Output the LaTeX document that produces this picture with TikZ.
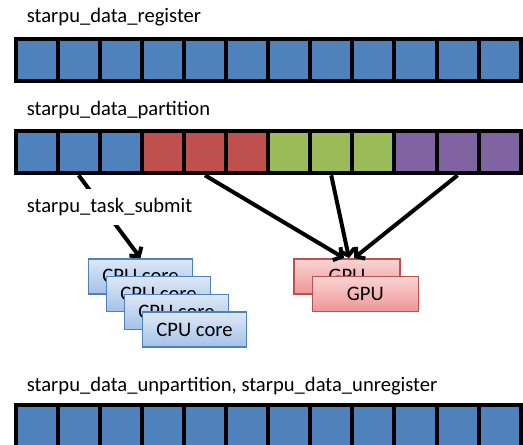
\documentclass[tikz,border=0pt]{standalone}
\usepackage{fontspec}
\setmainfont{Carlito}
\usepackage{tikz}
\usetikzlibrary{arrows.meta, positioning, calc}
\definecolor{part-blue}{RGB}{79,129,189}
\definecolor{part-red}{RGB}{192,80,77}
\definecolor{part-green}{RGB}{155,187,89}
\definecolor{part-purple}{RGB}{128,100,162}
\definecolor{cpu-top}{RGB}{222,232,246}
\definecolor{cpu-bot}{RGB}{163,194,232}
\definecolor{gpu-top}{RGB}{250,212,212}
\definecolor{gpu-bot}{RGB}{238,150,150}

\begin{document}
\begin{tikzpicture}[
    x=1pt, y=-1pt,
    cell/.style={rectangle, draw=black, line width=4pt, minimum width=42.1pt, minimum height=42pt, inner sep=0pt},
    title/.style={anchor=base west, inner sep=0pt, font=\fontsize{20.6}{24}\selectfont},
    cpu/.style={rectangle, draw=part-blue, line width=1.5pt, top color=cpu-top, bottom color=cpu-bot, minimum width=104pt, minimum height=35pt, font=\fontsize{20.6}{24}\selectfont},
    gpu/.style={rectangle, draw=part-red, line width=1.5pt, top color=gpu-top, bottom color=gpu-bot, minimum width=106pt, minimum height=35pt, font=\fontsize{20.6}{24}\selectfont},
    arrow/.style={-{Straight Barb[length=6pt, width=15pt]}, line width=4pt}
]
\useasboundingbox (0,0) rectangle (523,445);

% starpu_data_register
\node[title] (lreg) at (26.7,22.5) {starpu\_data\_register};
\foreach \i in {1,...,12}
  \node[cell, fill=part-blue] (r\i) at ({15.5+42.1*(\i-0.5)},59.5) {};

% starpu_data_partition
\node[title] (lpart) at (26.7,115.3) {starpu\_data\_partition};
\foreach \i/\c in {1/part-blue,2/part-blue,3/part-blue,4/part-red,5/part-red,6/part-red,
                   7/part-green,8/part-green,9/part-green,10/part-purple,11/part-purple,12/part-purple}
  \node[cell, fill=\c] (p\i) at ({15.5+42.1*(\i-0.5)},152.3) {};

% workers
\node[cpu] (cpu1) at (140.5,276.3) {CPU core};
\node[cpu] (cpu2) at ([shift={(18,17.8)}]cpu1) {CPU core};
\node[cpu] (cpu3) at ([shift={(18,17.8)}]cpu2) {CPU core};
\node[cpu] (cpu4) at ([shift={(18,17.8)}]cpu3) {CPU core};
\node[gpu] (gpu1) at (347,276.3) {GPU};
\node[gpu] (gpu2) at ([shift={(18.3,17.7)}]gpu1) {GPU};

% submission
\draw[arrow] (p2.south) -- (cpu1.north);
\draw[arrow] (p5.south) -- ([xshift=-3pt]gpu1.north);
\draw[arrow] (p8.south) -- ([xshift=2pt]gpu1.north);
\draw[arrow] (p11.south) -- ([xshift=7pt]gpu1.north);
\node[title, fill=white, inner ysep=9pt] (lsubmit) at (26.7,212.7) {starpu\_task\_submit};

% starpu_data_unpartition
\node[title] (lunpart) at (26.7,391.7) {starpu\_data\_unpartition, starpu\_data\_unregister};
\foreach \i in {1,...,12}
  \node[cell, fill=part-blue] (u\i) at ({15.5+42.1*(\i-0.5)},425.7) {};

\end{tikzpicture}
\end{document}
